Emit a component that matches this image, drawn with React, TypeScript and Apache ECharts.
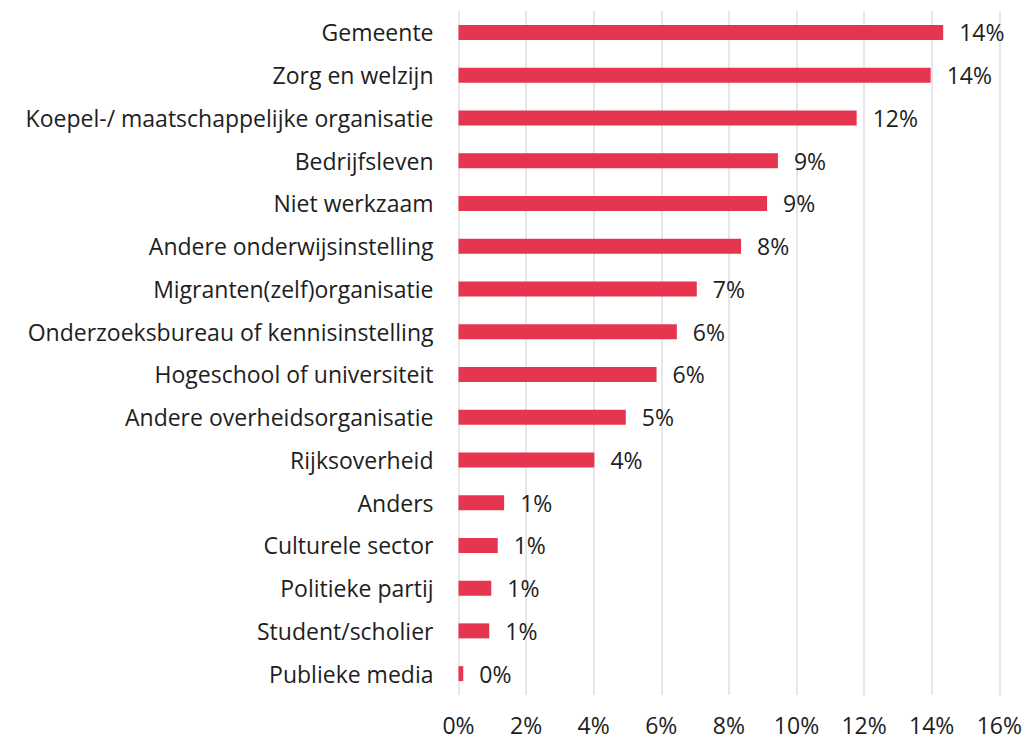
import React, { useEffect, useRef } from "react";
import * as echarts from "echarts";

const categories = [
  "Gemeente",
  "Zorg en welzijn",
  "Koepel-/ maatschappelijke organisatie",
  "Bedrijfsleven",
  "Niet werkzaam",
  "Andere onderwijsinstelling",
  "Migranten(zelf)organisatie",
  "Onderzoeksbureau of kennisinstelling",
  "Hogeschool of universiteit",
  "Andere overheidsorganisatie",
  "Rijksoverheid",
  "Anders",
  "Culturele sector",
  "Politieke partij",
  "Student/scholier",
  "Publieke media",
];

const values = [14.34, 13.97, 11.78, 9.45, 9.13, 8.36, 7.05, 6.46, 5.86, 4.95, 4.02, 1.35, 1.16, 0.97, 0.91, 0.14];

const xTicks = { min: 0, max: 16, interval: 2 };

const FONT = "'Open Sans', 'Noto Sans', sans-serif";

export default function App() {
  const ref = useRef<HTMLDivElement>(null);
  useEffect(() => {
    if (!ref.current) return;
    const chart = echarts.init(ref.current, null, { renderer: "svg" });
    chart.setOption({
      animation: false,
      backgroundColor: "#ffffff",
      grid: { left: 458.5, right: 30.7, top: 11, bottom: 44, containLabel: false },
      xAxis: {
        type: "value",
        min: xTicks.min,
        max: xTicks.max,
        interval: xTicks.interval,
        axisLine: { show: false },
        axisTick: { show: false },
        splitLine: { show: true, lineStyle: { color: "#dcdfe4", width: 1.5 } },
        axisLabel: {
          formatter: "{value}%",
          color: "#1e1e1e",
          fontSize: 23,
          fontFamily: FONT,
          margin: 18,
        },
      },
      yAxis: {
        type: "category",
        data: categories,
        inverse: true,
        axisLine: { show: false },
        axisTick: { show: false },
        splitLine: { show: false },
        axisLabel: {
          color: "#1e1e1e",
          fontSize: 23,
          fontFamily: FONT,
          margin: 25,
        },
      },
      series: [
        {
          type: "bar",
          data: values,
          barWidth: 15,
          itemStyle: { color: "#e6354e" },
          label: {
            show: true,
            position: "right",
            distance: 16,
            color: "#1e1e1e",
            fontSize: 23,
            fontFamily: FONT,
            formatter: (p: any) => Math.round(p.value) + "%",
          },
        },
      ],
    });
    return () => chart.dispose();
  }, []);
  return (
    <div
      ref={ref}
      style={{ position: "fixed", left: 0, top: 0, width: 1030, height: 739 }}
    />
  );
}
